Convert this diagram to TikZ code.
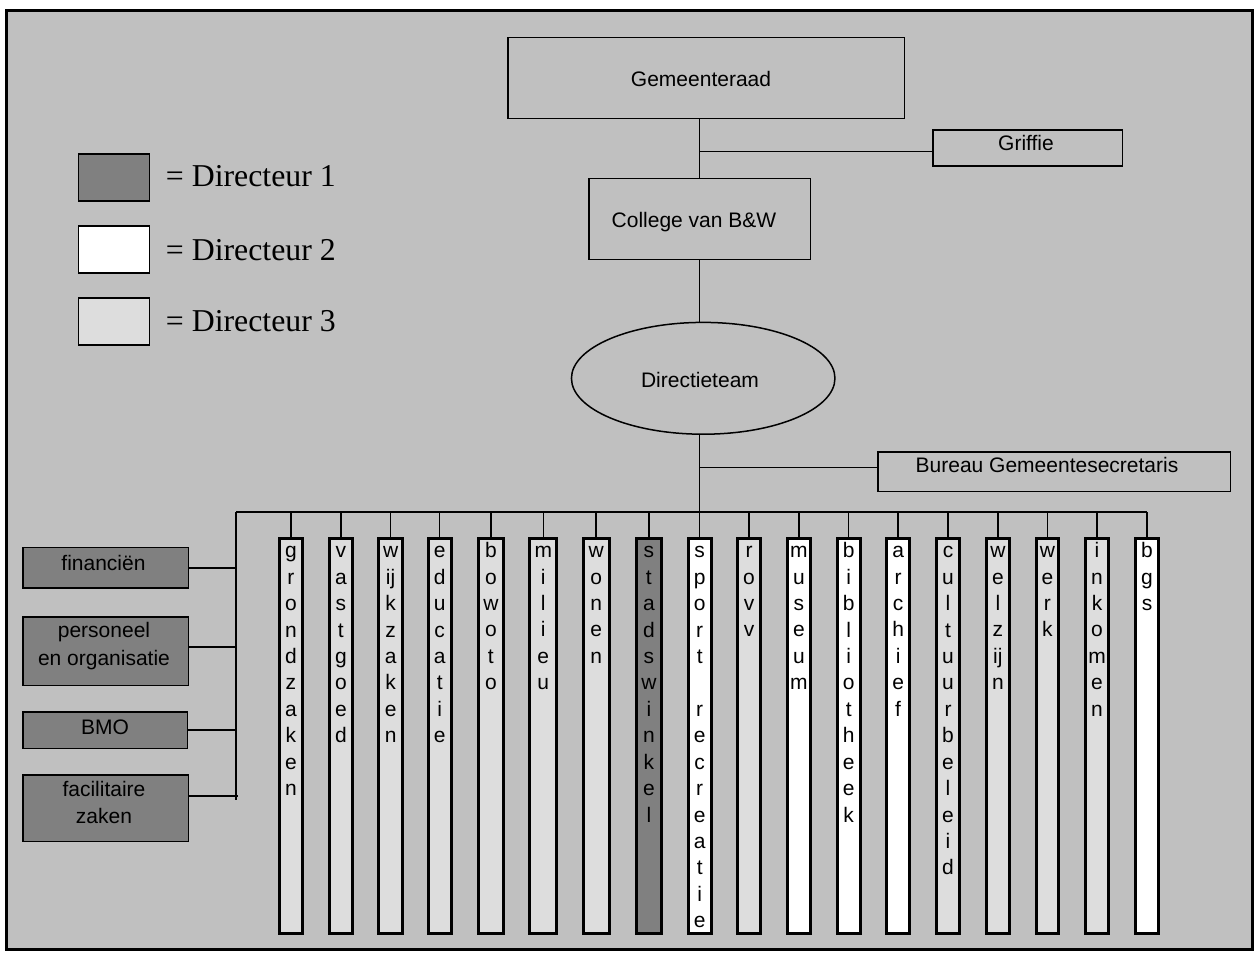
\documentclass[tikz,border=0pt]{standalone}
\usepackage{fontspec}
\newfontfamily\arialf{Liberation Sans}
\newfontfamily\serifroman{Liberation Serif}
\usetikzlibrary{shapes.geometric,calc}
\definecolor{bggray}{HTML}{C0C0C0}
\definecolor{dirone}{HTML}{808080}
\definecolor{dirthree}{HTML}{DDDDDD}

\begin{document}
\begin{tikzpicture}[x=1pt,y=-1pt,
  box/.style={draw=black, line width=1.5pt, rectangle, inner sep=0pt},
  bar/.style={draw=black, line width=3pt, rectangle, inner sep=0pt, minimum height=395pt},
  txt/.style={font=\arialf\fontsize{21}{24}\selectfont, inner sep=0pt, anchor=base},
  vtxt/.style={font=\arialf\fontsize{21}{26.43}\selectfont, inner sep=0pt, anchor=north, align=center},
  ltxt/.style={font=\arialf\fontsize{21}{27.6}\selectfont, inner sep=0pt, anchor=north, align=center},
  lgd/.style={font=\serifroman\fontsize{31.8}{36}\selectfont, inner sep=0pt, anchor=base west},
  link/.style={line width=1.5pt}
]
\useasboundingbox (0,0) rectangle (1257,958);
\fill[white] (0,0) rectangle (1257,958);
\draw[line width=3.5pt, fill=bggray] (6.7,10.5) rectangle (1252.5,949.5);

% legend
\node[box, fill=dirone,   minimum width=71pt, minimum height=47pt] (L1) at (114,177.5) {};
\node[box, fill=white,    minimum width=71pt, minimum height=47pt] (L2) at (114,249.5) {};
\node[box, fill=dirthree, minimum width=71pt, minimum height=47pt] (L3) at (114,321.7) {};
\node[lgd] (L1T) at ($(L1.east)+(15.5,9.2)$) {= Directeur 1};
\node[lgd] (L2T) at ($(L2.east)+(15.5,10.5)$) {= Directeur 2};
\node[lgd] (L3T) at ($(L3.east)+(15.5,10)$) {= Directeur 3};

% top of the hierarchy
\node[box, minimum width=396.5pt, minimum height=80.8pt] (gr) at (706,77.9) {};
\node[txt] (grT) at (701,86.5) {Gemeenteraad};
\node[box, minimum width=189.5pt, minimum height=36.2pt] (gri) at (1027.8,147.9) {};
\node[txt] (griT) at (1026,150) {Griffie};
\node[box, minimum width=221.2pt, minimum height=80.8pt] (col) at (699.7,218.9) {};
\node[txt] (colT) at (694,227.5) {College van B\&W};
\node[draw, ellipse, line width=1.5pt, inner sep=0pt, minimum width=263.5pt, minimum height=111.8pt] (dt) at (703.2,378.3) {};
\node[txt] (dtT) at (700,387.5) {Directieteam};
\node[box, minimum width=352.2pt, minimum height=39.8pt] (bur) at (1054.2,471.7) {};
\node[txt] (burT) at (1047,472.5) {Bureau Gemeentesecretaris};

% staff departments on the left
\node[box, fill=dirone, minimum width=165.5pt, minimum height=40.8pt] (fin) at (105.5,567.8) {};
\node[txt] (finT) at (103.5,570.5) {financiën};
\node[box, fill=dirone, minimum width=165.5pt, minimum height=68.5pt] (po) at (105.5,651) {};
\node[ltxt] (poT) at (104,621.5) {\rule{0pt}{16pt}personeel\\en organisatie};
\node[box, fill=dirone, minimum width=164.5pt, minimum height=36.5pt] (bmo) at (105,730) {};
\node[txt] (bmoT) at (105,734.2) {BMO};
\node[box, fill=dirone, minimum width=165.5pt, minimum height=66.5pt] (fac) at (105.5,808) {};
\node[ltxt] (facT) at (104,780) {\rule{0pt}{16pt}facilitaire\\zaken};

% connectors at the top
\coordinate (griJ) at ([yshift=-3.8pt]gri.west);
\coordinate (burJ) at ([yshift=4.4pt]bur.west);
\draw[link] (gr.south -| col.north) -- (col.north);
\draw[link] (griJ -| col.north) -- (griJ);
\draw[link] (col.south) -- (col.south |- dt.north);

% horizontal bus and the departments
\coordinate (busW) at (236,512);
\foreach \i/\xl/\xr/\fil/\lett in {
  1/277.7/304/dirthree/{g\\r\\o\\n\\d\\z\\a\\k\\e\\n},
  2/327.7/354/dirthree/{v\\a\\s\\t\\g\\o\\e\\d},
  3/377.3/404/dirthree/{w\\ij\\k\\z\\a\\k\\e\\n},
  4/426.7/452.7/dirthree/{e\\d\\u\\c\\a\\t\\i\\e},
  5/476.7/505/dirthree/{b\\o\\w\\o\\t\\o},
  6/528.3/558.3/dirthree/{m\\i\\l\\i\\e\\u},
  7/581.7/610.7/dirthree/{w\\o\\n\\e\\n},
  8/635/662.7/dirone/{s\\t\\a\\d\\s\\w\\i\\n\\k\\e\\l},
  9/686.7/712.7/white/{s\\p\\o\\r\\t\\\mbox{}\\r\\e\\c\\r\\e\\a\\t\\i\\e},
  10/736/762/dirthree/{r\\o\\v\\v},
  11/786/811.7/white/{m\\u\\s\\e\\u\\m},
  12/835.7/861.7/white/{b\\i\\b\\l\\i\\o\\t\\h\\e\\e\\k},
  13/885.3/911/white/{a\\r\\c\\h\\i\\e\\f},
  14/935/961/dirthree/{c\\u\\l\\t\\u\\u\\r\\b\\e\\l\\e\\i\\d},
  15/985/1010.7/dirthree/{w\\e\\l\\z\\ij\\n},
  16/1034.7/1060/dirthree/{w\\e\\r\\k},
  17/1084/1110/dirthree/{i\\n\\k\\o\\m\\e\\n},
  18/1134/1160/white/{b\\g\\s}} {
  \pgfmathsetmacro\cx{(\xl+\xr)/2}
  \pgfmathsetmacro\w{\xr-\xl-3}
  \node[bar, fill=\fil, minimum width=\w pt] (b\i) at (\cx,735.8) {};
  \node[vtxt] (t\i) at (\cx,541.5) {\rule{0pt}{16pt}\lett};
  \draw[link] (b\i.north) -- (b\i.north |- busW);
}
\coordinate (busE) at (b18.north |- busW);
\draw[link] (busW) -- (busE);
\draw[link] (dt.south -| b9.north) -- (b9.north);
\draw[link] (burJ -| b9.north) -- (burJ);

% spine of the staff departments
\coordinate (spineS) at (236,800);
\coordinate (poJ) at ([yshift=4pt]po.east);
\coordinate (facJ) at ([yshift=12pt]fac.east);
\draw[link] (busW) -- (spineS);
\draw[link] (fin.east) -- (fin.east -| busW);
\draw[link] (poJ) -- (poJ -| busW);
\draw[link] (bmo.east) -- (bmo.east -| busW);
\draw[link] (facJ) -- ($(facJ -| busW)+(2,0)$);
\end{tikzpicture}
\end{document}
